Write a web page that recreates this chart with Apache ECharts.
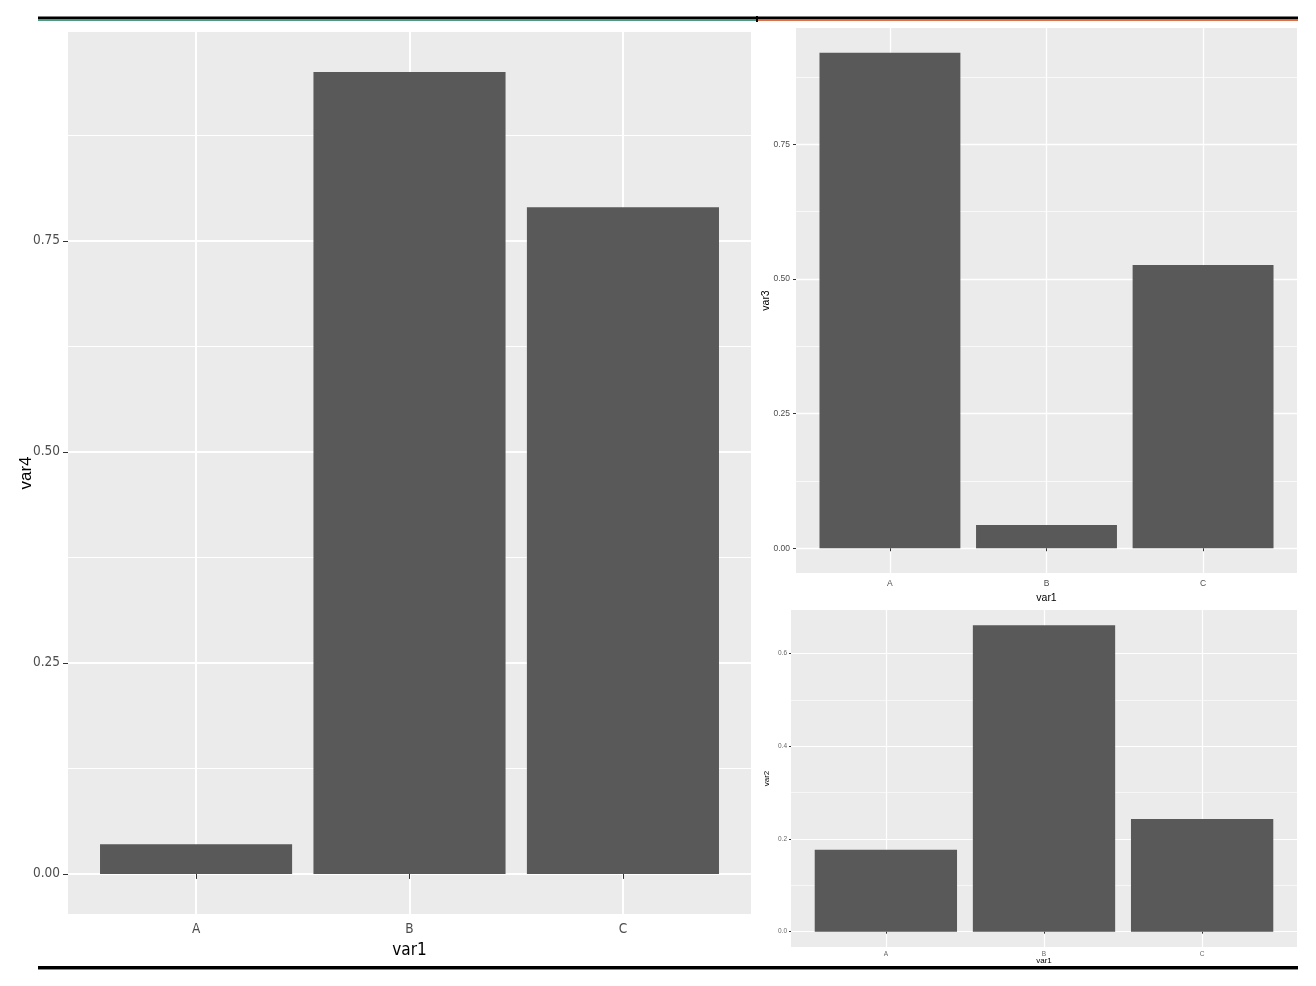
<!doctype html>
<html>
<head>
<meta charset="utf-8">
<title>var1 bars</title>
<script src="https://cdn.jsdelivr.net/npm/echarts@6/dist/echarts.min.js"></script>
<style>
  html, body { margin: 0; padding: 0; background: #fff; }
  #chart { width: 1316px; height: 986px; }
</style>
</head>
<body>
<div id="chart"></div>
<script>
// data
var categories = ['A', 'B', 'C'];
var var4 = [0.035, 0.950, 0.790];
var var3 = [0.920, 0.043, 0.526];
var var2 = [0.177, 0.661, 0.243];

var ticksQuarter = [0, 0.25, 0.5, 0.75];
var minorQuarter = [0.125, 0.375, 0.625, 0.875];
var ticksFifth = [0, 0.2, 0.4, 0.6];
var minorFifth = [0.1, 0.3, 0.5];
var catPos = [1, 2, 3];

var grids = [], xAxes = [], yAxes = [], series = [];

// one ggplot-like panel: grey background, white grid, bars at 90% width
function panel(p) {
    var gi = grids.length;
    var maxV = Math.max.apply(null, p.values);
    grids.push({
        left: p.left, top: p.top, width: p.width, height: p.height,
        outerBoundsMode: 'none', containLabel: false,
        show: true, backgroundColor: '#EBEBEB', borderWidth: 0
    });
    xAxes.push({
        gridIndex: gi, type: 'value', min: 0.4, max: 3.6,
        name: 'var1', nameLocation: 'middle', nameGap: p.xNameGap, nameMoveOverlap: false,
        nameTextStyle: { color: '#000', fontSize: p.titleSize, fontFamily: p.xFont },
        axisLine: { show: false },
        axisTick: { show: true, length: p.tickLen, customValues: catPos,
            lineStyle: { color: '#333333', width: 1 } },
        axisLabel: { customValues: catPos, margin: p.labelMargin, color: p.labelColor,
            fontSize: p.labelSize, fontFamily: p.xFont,
            formatter: function (v) { return categories[Math.round(v) - 1]; } },
        splitLine: { show: true, lineStyle: { color: '#ffffff', width: p.major } }
    });
    var yi = yAxes.length;
    yAxes.push({
        gridIndex: gi, type: 'value', position: 'left',
        min: -0.05 * maxV, max: 1.05 * maxV,
        name: p.yName, nameLocation: 'middle', nameGap: p.yNameGap, nameRotate: 90,
        nameMoveOverlap: false,
        nameTextStyle: { color: '#000', fontSize: p.titleSize, fontFamily: p.yFont },
        axisLine: { show: false },
        axisTick: { show: true, length: p.tickLen, customValues: p.ticks,
            lineStyle: { color: '#333333', width: 1 } },
        axisLabel: { customValues: p.ticks, margin: p.labelMargin, color: p.labelColor,
            fontSize: p.labelSize, fontFamily: p.xFont,
            formatter: function (v) { return v.toFixed(p.digits); } },
        splitLine: { show: true, lineStyle: { color: '#ffffff', width: p.major } }
    });
    // hidden axis used only for the minor grid
    yAxes.push({
        gridIndex: gi, type: 'value', position: 'left',
        min: -0.05 * maxV, max: 1.05 * maxV,
        axisLine: { show: false },
        axisTick: { show: false, customValues: p.minor },
        axisLabel: { show: false, customValues: p.minor },
        splitLine: { show: true, lineStyle: { color: '#ffffff', width: p.minorW } }
    });
    series.push({
        type: 'bar', xAxisIndex: gi, yAxisIndex: yi,
        barWidth: '90%',
        itemStyle: { color: '#595959' },
        silent: true,
        data: p.values.map(function (v, i) { return [catPos[i], v]; })
    });
}

var narrow = '"Liberation Sans Narrow", "DejaVu Sans Condensed", "Liberation Sans", sans-serif';
var plain = '"Liberation Sans", sans-serif';

panel({ values: var4, yName: 'var4', left: 68, top: 32, width: 683, height: 882,
    ticks: ticksQuarter, minor: minorQuarter, digits: 2,
    tickLen: 5, labelMargin: 8, labelSize: 13.5, titleSize: 17, labelColor: '#4D4D4D',
    xFont: narrow, yFont: plain,
    xNameGap: 28, yNameGap: 33, major: 2, minorW: 1 });

panel({ values: var3, yName: 'var3', left: 796, top: 28, width: 501, height: 545,
    ticks: ticksQuarter, minor: minorQuarter, digits: 2,
    tickLen: 3, labelMargin: 6, labelSize: 8.5, titleSize: 10.5, labelColor: '#4D4D4D',
    xFont: plain, yFont: plain,
    xNameGap: 20, yNameGap: 24, major: 1.3, minorW: 0.7 });

panel({ values: var2, yName: 'var2', left: 791, top: 610, width: 506, height: 337,
    ticks: ticksFifth, minor: minorFifth, digits: 1,
    tickLen: 2, labelMargin: 4, labelSize: 6.5, titleSize: 8, labelColor: '#666666',
    xFont: plain, yFont: plain,
    xNameGap: 10, yNameGap: 20, major: 1.2, minorW: 0.6 });

var myChart = echarts.init(document.getElementById('chart'), null, { renderer: 'canvas' });
myChart.setOption({
    backgroundColor: '#ffffff',
    animation: false,
    grid: grids,
    xAxis: xAxes,
    yAxis: yAxes,
    series: series,
    // rules framing the figure
    graphic: [
        { type: 'rect', shape: { x: 38, y: 16.5, width: 1260, height: 3 }, style: { fill: '#000' }, silent: true },
        { type: 'rect', shape: { x: 38, y: 19.5, width: 718, height: 1.5 }, style: { fill: '#4F9A82' }, silent: true },
        { type: 'rect', shape: { x: 758, y: 19.5, width: 540, height: 1.5 }, style: { fill: '#DD7048' }, silent: true },
        { type: 'rect', shape: { x: 756, y: 16, width: 2, height: 6 }, style: { fill: '#000' }, silent: true },
        { type: 'rect', shape: { x: 38, y: 966, width: 1260, height: 3 }, style: { fill: '#000' }, silent: true },
        { type: 'rect', shape: { x: 38, y: 969, width: 1260, height: 1 }, style: { fill: '#8a8a8a' }, silent: true }
    ]
});
</script>
</body>
</html>
